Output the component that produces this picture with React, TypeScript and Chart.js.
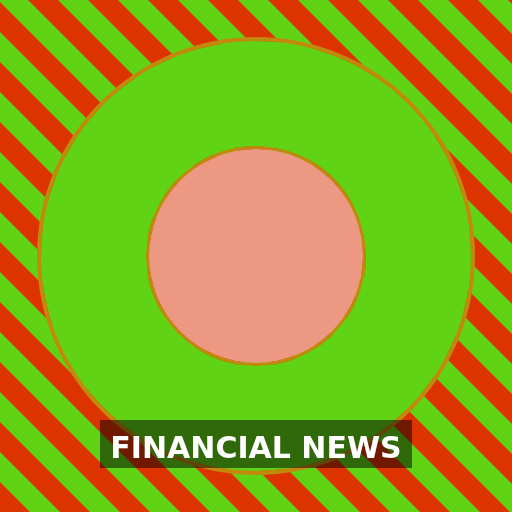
import { useEffect, useRef } from "react";
import Chart from "chart.js/auto";

const labels = ["Financial News"];
const rimValues = [1];
const outerValues = [1];
const innerRimValues = [1];
const innerValues = [1];
const title = "FINANCIAL NEWS";

const stripesPlugin = {
  id: "stripes",
  beforeDraw(chart: Chart) {
    const { ctx, width, height } = chart;
    ctx.save();
    ctx.fillStyle = "#5fd314";
    ctx.fillRect(0, 0, width, height);
    ctx.fillStyle = "#dd3300";
    for (let k = -10; k < 10; k++) {
      const a = 28 + 60 * k;
      ctx.beginPath();
      ctx.moveTo(a, 0);
      ctx.lineTo(a + 30, 0);
      ctx.lineTo(a + 30 + height, height);
      ctx.lineTo(a + height, height);
      ctx.closePath();
      ctx.fill();
    }
    ctx.restore();
  },
};

const bannerPlugin = {
  id: "banner",
  afterDraw(chart: Chart) {
    const { ctx } = chart;
    ctx.save();
    ctx.fillStyle = "rgba(0, 0, 0, 0.5)";
    ctx.fillRect(100, 420, 312, 48);
    ctx.fillStyle = "#ffffff";
    ctx.font = "bold 30px 'DejaVu Sans'";
    ctx.textAlign = "center";
    ctx.textBaseline = "alphabetic";
    ctx.fillText(title, 256, 458);
    ctx.restore();
  },
};

const App = () => {
  const chartRef = useRef<HTMLCanvasElement | null>(null);
  const chartInstance = useRef<Chart | null>(null);

  useEffect(() => {
    if (!chartRef.current) return;
    if (chartInstance.current) chartInstance.current.destroy();

    const orange = "#c28a0c";

    chartInstance.current = new Chart(chartRef.current, {
      type: "pie",
      data: {
        labels,
        datasets: [
          { data: rimValues, backgroundColor: orange, borderWidth: 0, weight: 4 },
          { data: outerValues, backgroundColor: "#5fd314", borderWidth: 0, weight: 105 },
          { data: innerRimValues, backgroundColor: orange, borderWidth: 0, weight: 3 },
          { data: innerValues, backgroundColor: "#ec9882", borderWidth: 0, weight: 107 },
        ],
      },
      options: {
        animation: false,
        responsive: false,
        devicePixelRatio: 1,
        radius: 219,
        layout: { padding: 0 },
        plugins: {
          legend: { display: false },
          tooltip: { enabled: false },
        },
      } as any,
      plugins: [stripesPlugin, bannerPlugin],
    });

    return () => {
      if (chartInstance.current) {
        chartInstance.current.destroy();
        chartInstance.current = null;
      }
    };
  }, []);

  return (
    <div style={{ position: "absolute", left: 0, top: 0, width: 512, height: 512 }}>
      <canvas ref={chartRef} width={512} height={512} />
    </div>
  );
};

export default App;
